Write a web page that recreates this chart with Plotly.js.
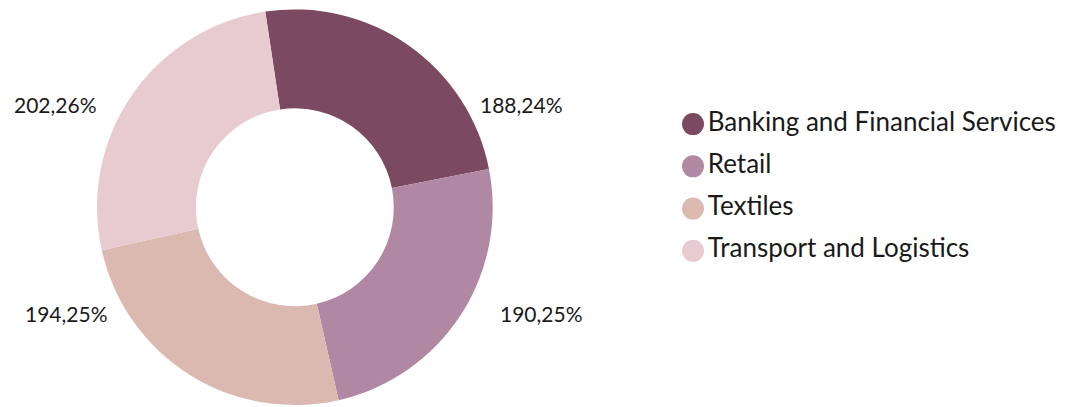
<!DOCTYPE html>
<html>
<head>
<meta charset="utf-8">
<script src="https://cdn.plot.ly/plotly-3.0.1.min.js"></script>
<style>html,body{margin:0;padding:0;background:#fff;}#chart{width:1065px;height:407px;}</style>
</head>
<body>
<div id="chart"></div>
<script>
const categories = ['Banking and Financial Services', 'Retail', 'Textiles', 'Transport and Logistics'];
const values = [188.24, 190.25, 194.25, 202.26];
const colors = ['#7b4a60', '#b088a3', '#dbb9b0', '#e8cbd0'];

const fontFamily = 'Lato, "Open Sans", sans-serif';
const textColor = '#1a1a1a';

const pieTrace = {
  type: 'pie',
  labels: categories,
  values: values,
  sort: false,
  direction: 'clockwise',
  rotation: -8.6,
  hole: 0.5,
  marker: { colors: colors, line: { width: 0 } },
  textinfo: 'none',
  showlegend: false,
  domain: { x: [97 / 1065, 492.7 / 1065], y: [1 - 405.5 / 407, 1 - 9 / 407] },
  hoverinfo: 'label+value'
};

// legend drawn as a scatter of circles with category labels
const legendTrace = {
  type: 'scatter',
  mode: 'markers+text',
  x: categories.map(() => 0),
  y: categories,
  text: categories,
  textposition: 'middle right',
  textfont: { family: fontFamily, size: 26, color: textColor },
  marker: { color: colors, size: 22, symbol: 'circle', line: { width: 0 } },
  cliponaxis: false,
  showlegend: false,
  hoverinfo: 'skip'
};

// label anchor positions (paper fraction) for outside value labels
const labelPos = [[521.5, 104], [541, 313], [66, 313], [55, 104]];
const annotations = values.map((v, i) => ({
  xref: 'paper', yref: 'paper',
  x: labelPos[i][0] / 1065, y: 1 - labelPos[i][1] / 407,
  xanchor: 'center', yanchor: 'middle',
  showarrow: false,
  text: v.toFixed(2).replace('.', ',') + '%',
  font: { family: fontFamily, size: 21, color: textColor }
}));

const layout = {
  width: 1065, height: 407,
  margin: { l: 0, r: 0, t: 0, b: 0 },
  paper_bgcolor: '#ffffff',
  plot_bgcolor: 'rgba(0,0,0,0)',
  showlegend: false,
  xaxis: { visible: false, domain: [693 / 1065, 1], range: [0, 1], fixedrange: true },
  yaxis: { visible: false, type: 'category', domain: [1 - 272 / 407, 1 - 103 / 407], range: [3.5, -0.5], fixedrange: true },
  annotations: annotations
};

Plotly.newPlot('chart', [pieTrace, legendTrace], layout, { displayModeBar: false, staticPlot: true });
</script>
</body>
</html>
